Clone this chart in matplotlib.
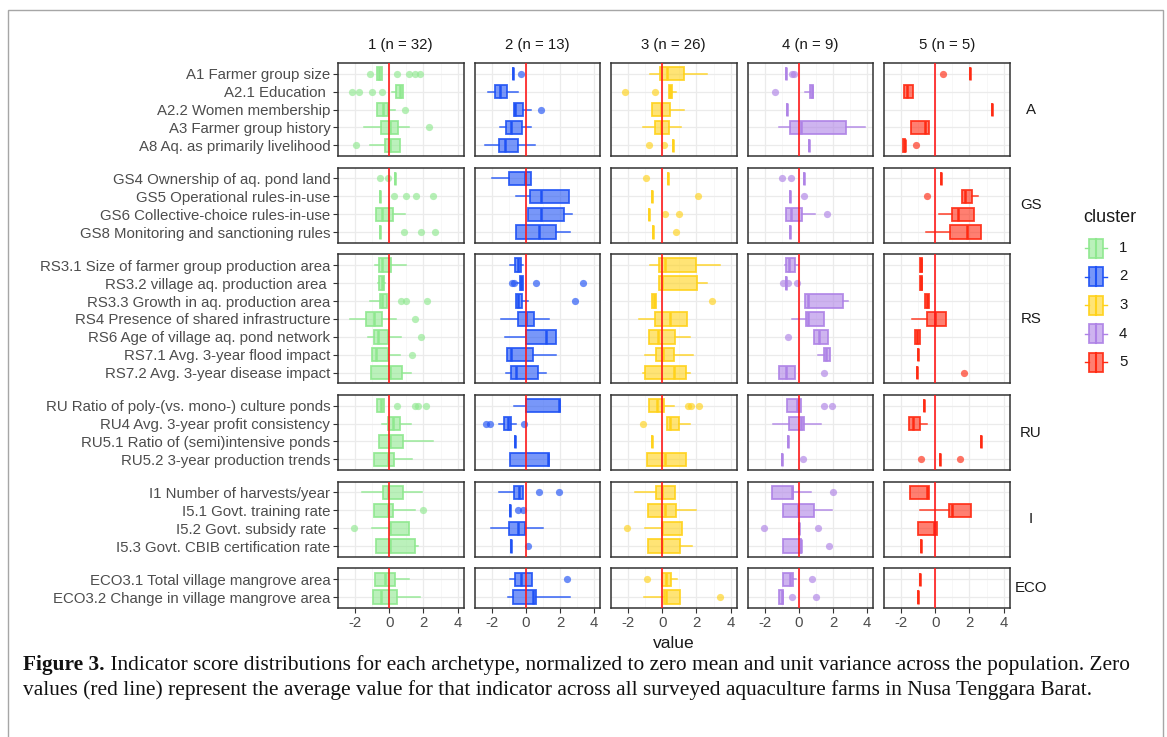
import matplotlib
matplotlib.use("Agg")
import matplotlib.pyplot as plt
from matplotlib.colors import to_rgba
from matplotlib.patches import Rectangle
from matplotlib.lines import Line2D

plt.rcParams["font.family"] = ["Liberation Sans", "DejaVu Sans"]

W, H = 1167, 737

clusters = ["1", "2", "3", "4", "5"]
cluster_sizes = [32, 13, 26, 9, 5]
cluster_colors = ["#8FE88F", "#1F52F5", "#FFD21A", "#AE82E6", "#FF2A12"]

groups = ["A", "GS", "RS", "RU", "I", "ECO"]
a_labels = ["A1 Farmer group size", "A2.1 Education ", "A2.2 Women membership",
            "A3 Farmer group history", "A8 Aq. as primarily livelihood"]
gs_labels = ["GS4 Ownership of aq. pond land", "GS5 Operational rules-in-use",
             "GS6 Collective-choice rules-in-use", "GS8 Monitoring and sanctioning rules"]
rs_labels = ["RS3.1 Size of farmer group production area", "RS3.2 village aq. production area ",
             "RS3.3 Growth in aq. production area", "RS4 Presence of shared infrastructure",
             "RS6 Age of village aq. pond network", "RS7.1 Avg. 3-year flood impact",
             "RS7.2 Avg. 3-year disease impact"]
ru_labels = ["RU Ratio of poly-(vs. mono-) culture ponds", "RU4 Avg. 3-year profit consistency",
             "RU5.1 Ratio of (semi)intensive ponds", "RU5.2 3-year production trends"]
i_labels = ["I1 Number of harvests/year", "I5.1 Govt. training rate",
            "I5.2 Govt. subsidy rate ", "I5.3 Govt. CBIB certification rate"]
eco_labels = ["ECO3.1 Total village mangrove area", "ECO3.2 Change in village mangrove area"]
group_labels = [a_labels, gs_labels, rs_labels, ru_labels, i_labels, eco_labels]

# (lower whisker, q1, median, q3, upper whisker, outliers), one row per indicator
stats_1 = [
    (-0.73, -0.73, -0.60, -0.44, -0.44, [-1.12, 0.46, 1.15, 1.48, 1.77]),
    (0.17, 0.42, 0.60, 0.81, 0.81, [-2.20, -1.75, -1.02, -0.44]),
    (-0.73, -0.73, -0.35, -0.10, 0.33, [0.94]),
    (-1.50, -0.50, 0.04, 0.52, 1.13, [2.35]),
    (-1.12, -0.25, 0.04, 0.65, 0.65, [-1.92]),
    (0.33, 0.33, 0.33, 0.33, 0.33, [-0.54, -0.10]),
    (-0.52, -0.52, -0.52, -0.52, -0.52, [0.29, 1.00, 1.58, 2.58]),
    (-0.77, -0.77, -0.40, 0.23, 0.94, []),
    (-0.52, -0.52, -0.52, -0.52, -0.52, [0.85, 1.83, 2.69]),
    (-0.83, -0.63, -0.40, 0.10, 1.00, []),
    (-0.65, -0.58, -0.45, -0.31, -0.25, []),
    (-1.12, -0.54, -0.40, -0.12, -0.12, [0.71, 0.96, 2.21]),
    (-2.27, -1.35, -0.90, -0.44, 0.42, [1.52]),
    (-1.27, -0.92, -0.67, -0.10, 0.71, [1.83]),
    (-1.02, -1.02, -0.80, -0.10, 0.65, [1.33]),
    (-1.06, -1.06, 0.04, 0.77, 1.29, []),
    (-0.69, -0.69, -0.50, -0.31, -0.31, [0.44, 1.48, 1.67, 2.13]),
    (-0.44, -0.10, 0.20, 0.65, 1.29, []),
    (-0.58, -0.58, 0.05, 0.81, 2.58, []),
    (-0.92, -0.92, -0.10, 0.29, 1.35, []),
    (-1.60, -0.35, -0.05, 0.81, 1.92, []),
    (-0.87, -0.87, -0.10, 0.23, 1.48, [2.00]),
    (-1.02, 0.04, 0.04, 1.15, 1.15, [-2.04]),
    (-0.79, -0.79, 0.04, 1.52, 1.67, []),
    (-0.83, -0.83, -0.25, 0.33, 1.13, []),
    (-0.98, -0.98, -0.48, 0.46, 1.81, []),
]
stats_2 = [
    (-0.75, -0.75, -0.75, -0.75, -0.75, [-0.29]),
    (-2.21, -1.79, -1.50, -1.10, -0.48, []),
    (-0.71, -0.71, -0.62, -0.15, 0.29, [0.87]),
    (-1.48, -1.13, -0.87, -0.21, 0.29, []),
    (-2.37, -1.54, -1.21, -0.48, 0.52, []),
    (-1.98, -0.96, -0.06, 0.29, 0.29, []),
    (-0.58, 0.23, 0.87, 2.50, 2.50, []),
    (0.15, 0.15, 0.87, 2.21, 2.73, []),
    (-0.56, -0.56, 0.77, 1.79, 2.56, []),
    (-0.92, -0.62, -0.45, -0.27, -0.19, []),
    (-0.50, -0.33, -0.28, -0.15, -0.15, [-0.83, -0.67, 0.58, 3.35]),
    (-0.58, -0.58, -0.45, -0.21, 0.10, [2.85]),
    (-1.44, -0.48, 0.00, 0.48, 1.37, []),
    (-1.23, 0.04, 1.17, 1.79, 1.79, []),
    (-1.12, -1.12, -0.85, 0.42, 1.79, []),
    (-1.13, -0.87, -0.58, 0.73, 1.21, []),
    (-0.71, 0.00, 1.92, 2.02, 2.02, []),
    (-1.54, -1.25, -1.05, -0.87, -0.58, [-2.31, -2.12, -0.10]),
    (-0.62, -0.62, -0.62, -0.62, -0.62, []),
    (-0.92, -0.92, 1.31, 1.37, 1.37, []),
    (-1.58, -0.71, -0.38, -0.15, -0.15, [0.77, 1.92]),
    (-0.94, -0.94, -0.94, -0.94, -0.94, [-0.48, -0.15]),
    (-2.06, -0.96, -0.48, -0.06, 1.02, []),
    (-0.87, -0.87, -0.87, -0.87, -0.87, [0.13]),
    (-0.90, -0.62, -0.29, 0.35, 0.35, [2.40]),
    (-1.06, -0.77, 0.44, 0.58, 2.56, []),
]
stats_3 = [
    (-0.73, -0.15, 0.29, 1.29, 2.60, []),
    (0.37, 0.37, 0.47, 0.56, 0.81, [-2.17, -0.40]),
    (-0.63, -0.63, -0.06, 0.46, 1.25, []),
    (-1.15, -0.44, -0.06, 0.38, 1.10, []),
    (0.62, 0.62, 0.62, 0.62, 0.62, [-0.77, 0.10]),
    (0.33, 0.33, 0.33, 0.33, 0.33, [-0.98]),
    (-0.60, -0.60, -0.60, -0.60, -0.60, [2.06]),
    (-0.79, -0.79, -0.79, -0.79, -0.79, [0.17, 1.00]),
    (-0.52, -0.52, -0.52, -0.52, -0.52, [0.81]),
    (-0.69, -0.19, 0.17, 1.98, 3.37, []),
    (-0.19, -0.19, 0.00, 2.02, 2.63, []),
    (-0.63, -0.63, -0.50, -0.35, -0.35, [2.92]),
    (-1.35, -0.44, 0.46, 1.44, 1.44, []),
    (-0.79, -0.79, -0.25, 0.75, 1.63, []),
    (-1.02, -0.35, 0.04, 0.67, 1.81, []),
    (-1.12, -1.02, 0.71, 1.38, 1.63, []),
    (-0.77, -0.77, -0.30, 0.08, 0.67, [1.48, 1.67, 2.15]),
    (0.29, 0.29, 0.45, 1.00, 1.63, [-1.15]),
    (-0.62, -0.62, -0.62, -0.62, -0.62, []),
    (-0.92, -0.92, 0.17, 1.38, 1.38, []),
    (-1.60, -0.35, 0.00, 0.77, 0.77, []),
    (-0.83, -0.83, 0.15, 0.81, 1.96, []),
    (-1.02, 0.00, 0.00, 1.15, 1.15, [-2.04]),
    (-0.83, -0.83, 0.00, 1.06, 1.71, []),
    (0.00, 0.00, 0.20, 0.52, 0.85, [-0.92]),
    (-1.08, 0.10, 0.20, 1.04, 1.04, [3.35]),
]
stats_4 = [
    (-0.75, -0.75, -0.75, -0.75, -0.75, [-0.37, -0.30]),
    (0.35, 0.63, 0.75, 0.83, 0.83, [-1.42]),
    (-0.67, -0.67, -0.67, -0.67, -0.67, []),
    (-1.13, -0.50, 0.12, 2.79, 3.85, []),
    (0.62, 0.62, 0.62, 0.62, 0.62, []),
    (0.31, 0.31, 0.31, 0.31, 0.31, [-0.96, -0.48]),
    (-0.52, -0.52, -0.52, -0.52, -0.52, [0.29]),
    (-0.77, -0.77, -0.45, 0.21, 0.92, [1.63]),
    (-0.52, -0.52, -0.52, -0.52, -0.52, []),
    (-0.81, -0.73, -0.55, -0.23, -0.05, []),
    (-0.75, -0.75, -0.75, -0.75, -0.75, [-0.90, -0.62, -0.13]),
    (0.35, 0.35, 0.55, 2.56, 2.85, []),
    (-0.42, 0.44, 0.55, 1.50, 1.50, []),
    (0.87, 0.87, 1.17, 1.73, 1.73, [-0.62]),
    (1.12, 1.50, 1.60, 1.83, 1.83, []),
    (-1.13, -1.13, -0.77, -0.23, -0.23, [1.50]),
    (-0.71, -0.71, -0.10, 0.10, 0.10, [1.50, 1.92]),
    (-1.48, -0.58, 0.15, 0.29, 1.31, []),
    (-0.62, -0.62, -0.62, -0.62, -0.62, []),
    (-0.96, -0.96, -0.96, -0.96, -0.96, [0.27]),
    (-1.58, -1.58, -0.40, -0.33, 0.73, [2.02]),
    (-0.90, -0.90, -0.05, 0.87, 1.92, []),
    (0.04, 0.04, 0.04, 0.04, 0.04, [-2.06, 1.13]),
    (-0.90, -0.90, 0.15, 0.15, 0.15, [1.77]),
    (-0.92, -0.92, -0.50, -0.33, -0.19, [0.77]),
    (-1.13, -1.13, -1.00, -0.90, -0.90, [-0.42, 1.00]),
]
stats_5 = [
    (2.02, 2.02, 2.02, 2.02, 2.02, [0.44]),
    (-1.83, -1.83, -1.65, -1.31, -1.31, []),
    (3.31, 3.31, 3.31, 3.31, 3.31, []),
    (-1.40, -1.40, -0.60, -0.38, -0.38, []),
    (-1.90, -1.90, -1.79, -1.75, -1.75, [-1.15]),
    (0.33, 0.33, 0.33, 0.33, 0.33, []),
    (1.58, 1.58, 1.75, 2.12, 2.50, [-0.48]),
    (0.23, 0.96, 1.30, 2.25, 2.25, []),
    (-0.52, 0.87, 1.83, 2.69, 2.69, []),
    (-0.90, -0.90, -0.83, -0.76, -0.76, []),
    (-0.90, -0.90, -0.83, -0.76, -0.76, []),
    (-0.62, -0.62, -0.50, -0.38, -0.38, []),
    (-1.35, -0.48, 0.00, 0.62, 0.62, []),
    (-1.21, -1.21, -1.05, -0.90, -0.90, []),
    (-1.02, -1.02, -1.02, -1.02, -1.02, []),
    (-1.08, -1.08, -1.08, -1.08, -1.08, [1.69]),
    (-0.67, -0.67, -0.67, -0.67, -0.67, []),
    (-1.54, -1.54, -1.30, -0.90, -0.48, []),
    (2.65, 2.65, 2.65, 2.65, 2.65, []),
    (0.25, 0.25, 0.25, 0.25, 0.25, [-0.83, 1.44]),
    (-1.50, -1.50, -0.48, -0.35, -0.35, []),
    (-0.87, 0.81, 1.00, 2.08, 2.08, []),
    (-1.00, -1.00, -0.05, 0.10, 0.10, []),
    (-0.83, -0.83, -0.83, -0.83, -0.83, []),
    (-0.87, -0.87, -0.87, -0.87, -0.87, []),
    (-1.02, -1.02, -1.02, -1.02, -1.02, []),
]
cluster_stats = [stats_1, stats_2, stats_3, stats_4, stats_5]

x_ticks = [-2, 0, 2, 4]
x_limits = (-2.86, 4.34)

fig = plt.figure(figsize=(W / 100, H / 100), dpi=100)


def add_px_axes(left, top, width, height):
    return fig.add_axes([left / W, 1 - (top + height) / H, width / W, height / H])


# page frame
fig.add_artist(Rectangle((8 / W, -0.01), 1155 / W, 1 - 10 / H + 0.01,
                         transform=fig.transFigure, fill=False,
                         edgecolor="#A6A6A6", linewidth=1.0))

col_left0, col_w, col_gap = 338, 125.5, 11
row_top0, unit_px, row_gap = 63, 17.9, 11.6
grey_text = "#4D4D4D"
text_size = 10.8

row_top = row_top0
start = 0
for g, labels in zip(groups, group_labels):
    n = len(labels)
    row_h = (n + 0.2) * unit_px
    positions = list(range(1, n + 1))
    last_row = g == groups[-1]
    for c, (stats, color) in enumerate(zip(cluster_stats, cluster_colors)):
        ax = add_px_axes(col_left0 + c * (col_w + col_gap), row_top, col_w, row_h)
        bx = [dict(whislo=s[0], q1=s[1], med=s[2], q3=s[3], whishi=s[4], fliers=s[5])
              for s in stats[start:start + n]]
        ax.bxp(bx, positions=positions, widths=0.75, orientation="horizontal",
               patch_artist=True, showcaps=False,
               boxprops=dict(facecolor=to_rgba(color, 0.6), edgecolor=to_rgba(color, 0.9),
                             linewidth=1.3),
               medianprops=dict(color=color, linewidth=1.8),
               whiskerprops=dict(color=to_rgba(color, 0.9), linewidth=1.1),
               flierprops=dict(marker="o", markersize=5.2, markerfacecolor=to_rgba(color, 0.65),
                               markeredgecolor="none"))
        ax.axvline(0, color="#FF1A1A", linewidth=1.2, zorder=5)
        ax.set_xlim(*x_limits)
        ax.set_ylim(n + 0.6, 0.4)
        ax.set_xticks(x_ticks)
        ax.set_xticks([-3, -1, 1, 3], minor=True)
        ax.set_yticks(positions)
        ax.grid(which="major", color="#EBEBEB", linewidth=0.9)
        ax.grid(which="minor", axis="x", color="#F4F4F4", linewidth=0.5)
        ax.set_axisbelow(True)
        for sp in ax.spines.values():
            sp.set_color("#333333")
            sp.set_linewidth(1.1)
        ax.tick_params(which="minor", length=0)
        ax.tick_params(which="major", length=3.5, width=0.8, color="#333333",
                       labelcolor=grey_text, labelsize=text_size, pad=2)
        if c == 0:
            ax.set_yticklabels(labels)
        else:
            ax.tick_params(axis="y", left=False, labelleft=False)
        if last_row:
            ax.set_xticklabels([f"{t}" if t >= 0 else f"-{abs(t)}" for t in x_ticks])
        else:
            ax.tick_params(axis="x", bottom=False, labelbottom=False)
    # row strip label
    fig.text(1031 / W, 1 - (row_top + row_h / 2) / H, g, ha="center", va="center",
             fontsize=text_size, color="#1A1A1A")
    row_top += row_h + row_gap
    start += n

# column strip labels
for c, (name, size) in enumerate(zip(clusters, cluster_sizes)):
    cx = col_left0 + c * (col_w + col_gap) + col_w / 2
    fig.text(cx / W, 1 - 45 / H, f"{name} (n = {size})", ha="center", va="center",
             fontsize=text_size, color="#1A1A1A")

panels_right = col_left0 + 5 * col_w + 4 * col_gap
fig.text((col_left0 + panels_right) / 2 / W, 1 - 644 / H, "value", ha="center",
         va="center", fontsize=12.6, color="#1A1A1A")

# legend
fig.text(1083 / W, 1 - 218 / H, "cluster", ha="left", va="center", fontsize=13,
         color="#1A1A1A")
for k, (name, color) in enumerate(zip(clusters, cluster_colors)):
    ky = 248 + k * 28.5
    kx0, kx1 = 1089, 1103
    fig.add_artist(Rectangle((kx0 / W, 1 - (ky + 9.5) / H), (kx1 - kx0) / W, 19 / H,
                             transform=fig.transFigure, facecolor=to_rgba(color, 0.6),
                             edgecolor=to_rgba(color, 0.9), linewidth=1.3))
    mid = (kx0 + kx1) / 2
    fig.add_artist(Line2D([mid / W, mid / W], [1 - (ky - 9.5) / H, 1 - (ky + 9.5) / H],
                          transform=fig.transFigure, color=color, linewidth=1.5))
    for a, b in ((1085, kx0), (kx1, 1107)):
        fig.add_artist(Line2D([a / W, b / W], [1 - ky / H, 1 - ky / H],
                              transform=fig.transFigure, color=color, linewidth=1.0))
    fig.text(1119 / W, 1 - ky / H, name, ha="left", va="center", fontsize=text_size,
             color="#1A1A1A")

# caption
serif = ["Liberation Serif", "DejaVu Serif"]
line1_rest = (" Indicator score distributions for each archetype, normalized to zero mean "
              "and unit variance across the population. Zero")
line2 = ("values (red line) represent the average value for that indicator across all "
         "surveyed aquaculture farms in Nusa Tenggara Barat.")
cap_size = 14.0
cap_y1, cap_y2 = 665, 690
renderer = fig.canvas.get_renderer()
bold = fig.text(23 / W, 1 - cap_y1 / H, "Figure 3.", ha="left", va="center",
                fontsize=cap_size, fontweight="bold", family=serif, color="#111111")
bw = bold.get_window_extent(renderer).width
rest = fig.text((23 + bw) / W, 1 - cap_y1 / H, line1_rest, ha="left", va="center",
                fontsize=cap_size, family=serif, color="#111111")
total = bw + rest.get_window_extent(renderer).width
cap_size *= 1110 / total
bold.set_fontsize(cap_size)
rest.set_fontsize(cap_size)
bw = bold.get_window_extent(renderer).width
rest.set_x((23 + bw) / W)
fig.text(23 / W, 1 - cap_y2 / H, line2, ha="left", va="center", fontsize=cap_size,
         family=serif, color="#111111")

fig.savefig("out.png", dpi=100)
